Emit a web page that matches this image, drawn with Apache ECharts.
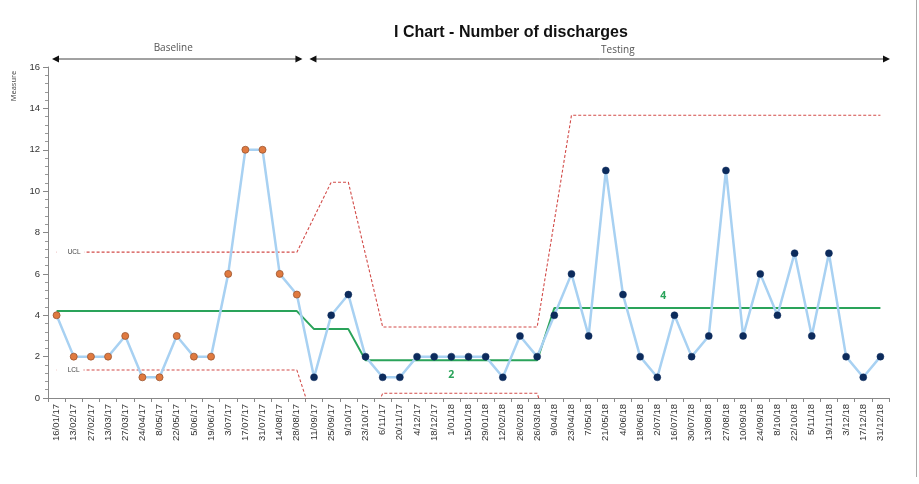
<!DOCTYPE html>
<html><head><meta charset="utf-8">
<script src="https://cdn.jsdelivr.net/npm/echarts@6/dist/echarts.min.js"></script>
<style>html,body{margin:0;padding:0;background:#fff}#c{width:919px;height:484px}</style>
</head><body><div id="c"></div>
<script>
const categories = ['16/01/17','13/02/17','27/02/17','13/03/17','27/03/17','24/04/17','8/05/17','22/05/17','5/06/17','19/06/17','3/07/17','17/07/17','31/07/17','14/08/17','28/08/17','11/09/17','25/09/17','9/10/17','23/10/17','6/11/17','20/11/17','4/12/17','18/12/17','1/01/18','15/01/18','29/01/18','12/02/18','26/02/18','26/03/18','9/04/18','23/04/18','7/05/18','21/05/18','4/06/18','18/06/18','2/07/18','16/07/18','30/07/18','13/08/18','27/08/18','10/09/18','24/09/18','8/10/18','22/10/18','5/11/18','19/11/18','3/12/18','17/12/18','31/12/18'];
const measure = [4,2,2,2,3,1,1,3,2,2,6,12,12,6,5, 1,4,5, 2,1,1,2,2,2,2,2,1,3,2, 4,6,3,11,5,2,1,4,2,3,11,3,6,4,7,3,7,2,1,2];
const phaseStart = [0, 15, 18, 29];
const phaseCL  = [4.2, 3.33, 1.82, 4.35];
const phaseUCL = [7.05, 10.43, 3.43, 13.67];
const phaseLCL = [1.35, -3.77, 0.23, -4.97];
const clLabelIndex = [23, 35];
const yMin = 0, yMax = 16, yInterval = 2;
const baselineCount = 15;
const sectionNames = ['Baseline', 'Testing'];
const titleText = 'I Chart - Number of discharges';

function phaseOf(i){ let p = 0; for (let k = 0; k < phaseStart.length; k++) if (i >= phaseStart[k]) p = k; return p; }
const clData = categories.map((c, i) => {
  const v = phaseCL[phaseOf(i)];
  if (clLabelIndex.includes(i)) {
    const first = i === clLabelIndex[0];
    return { value: v, symbol: 'circle', symbolSize: 0.1,
      label: { show: true, formatter: String(Math.round(v)), position: first ? 'bottom' : 'top',
        distance: first ? 9 : 6, offset: first ? [0,0] : [6,0], color: '#2aa35a', fontWeight: 'bold', fontSize: 10.5, fontFamily: 'Open Sans' } };
  }
  return v;
});
function limitData(arr, name) {
  return categories.map((c, i) => {
    const p = phaseOf(i);
    if (p > 0 && i === phaseStart[p]) return null;
    const v = arr[p];
    if (i === 0) return { value: v, symbol: 'circle', symbolSize: 0.1,
      label: { show: true, formatter: name, position: 'right', distance: 0, backgroundColor: '#fff',
        padding: [2, 4, 2, 11], fontSize: 6.5, color: '#444', fontFamily: 'Liberation Sans' } };
    return v;
  });
}
const measureData = measure.map((v, i) => ({ value: v,
  itemStyle: i < baselineCount ? { color: '#e07a40', borderColor: '#9a5530', borderWidth: 0.8 } : { color: '#0c2b5c', borderColor: '#0c2b5c', borderWidth: 0.5 } }));

const chart = echarts.init(document.getElementById('c'));
const option = {
  animation: false,
  backgroundColor: '#fff',
  title: { text: titleText, left: 389, top: 20, textStyle: { fontSize: 16, fontWeight: 'bold', color: '#111', fontFamily: 'Liberation Sans' } },
  grid: { left: 48, right: 30, top: 67, bottom: 86, containLabel: false },
  xAxis: { type: 'category', data: categories, boundaryGap: true,
    axisLine: { lineStyle: { color: '#888', width: 1 } },
    axisTick: { show: true, length: 4, lineStyle: { color: '#888' } },
    axisLabel: { rotate: 90, fontSize: 9.5, color: '#333', margin: 6, fontFamily: 'Liberation Sans', interval: 0 },
    splitLine: { show: false } },
  yAxis: { type: 'value', min: yMin, max: yMax, interval: yInterval,
    axisLine: { show: true, lineStyle: { color: '#888' } },
    axisTick: { show: true, length: 5, lineStyle: { color: '#888' } },
    minorTick: { show: true, splitNumber: 5, length: 3, lineStyle: { color: '#999' } },
    axisLabel: { fontSize: 9.5, color: '#333', margin: 8, fontFamily: 'Liberation Sans' },
    splitLine: { show: false } },
  series: [
    { name: 'UCL', type: 'line', data: limitData(phaseUCL, 'UCL'), symbol: 'none', connectNulls: true,
      lineStyle: { color: '#d24b48', width: 1.1, type: [3, 2] }, z: 2, silent: true },
    { name: 'LCL', type: 'line', data: limitData(phaseLCL, 'LCL'), symbol: 'none', connectNulls: true,
      lineStyle: { color: '#d24b48', width: 1.1, type: [3, 2] }, z: 2, silent: true },
    { name: 'CL', type: 'line', data: clData, symbol: 'none',
      lineStyle: { color: '#2aa35a', width: 2 }, z: 3, silent: true },
    { name: 'Measure', type: 'line', data: measureData, symbol: 'circle', symbolSize: 7, showSymbol: true,
      lineStyle: { color: '#a8d1f2', width: 2.5 }, z: 4, silent: true }
  ]
};
chart.setOption(option);

const xs = categories.map(c => chart.convertToPixel({ xAxisIndex: 0 }, c));
const step = xs[1] - xs[0];
const gridL = xs[0] - step / 2, gridR = xs[xs.length - 1] + step / 2;
const yTop = chart.convertToPixel({ yAxisIndex: 0 }, yMax);
const boundary = (xs[baselineCount - 1] + xs[baselineCount]) / 2;
const ay = yTop - 8;
function arrow(x1, x2) {
  const h = 7, w = 3.5, st = { fill: '#111' };
  return [
    { type: 'line', shape: { x1: x1 + 2, y1: ay, x2: x2 - 2, y2: ay }, style: { stroke: '#444', lineWidth: 1 }, silent: true },
    { type: 'polygon', shape: { points: [[x1, ay], [x1 + h, ay - w], [x1 + h, ay + w]] }, style: st, silent: true },
    { type: 'polygon', shape: { points: [[x2, ay], [x2 - h, ay - w], [x2 - h, ay + w]] }, style: st, silent: true }
  ];
}
const bL = gridL + 4, bR = boundary - 3, tL = boundary + 4, tR = gridR + 1;
const testingX = xs[32] + 0.7 * step;
const graphics = [].concat(arrow(bL, bR), arrow(tL, tR), [
  { type: 'text', x: (bL + bR) / 2 - 4, y: ay - 11, style: { text: sectionNames[0], font: '10px "Open Sans"', fill: '#555', align: 'center', verticalAlign: 'middle' }, silent: true },
  { type: 'text', x: testingX, y: ay - 9, style: { text: sectionNames[1], font: '10px "Open Sans"', fill: '#555', align: 'center', verticalAlign: 'middle' }, silent: true },
  { type: 'text', x: 14, y: 86, rotation: Math.PI / 2, style: { text: 'Measure', font: '7.5px "Open Sans"', fill: '#444', align: 'center', verticalAlign: 'middle' }, silent: true },
  { type: 'line', shape: { x1: 916.5, y1: 0, x2: 916.5, y2: 477 }, style: { stroke: '#aaa', lineWidth: 1 }, silent: true }
]);
chart.setOption({ graphic: graphics });
</script></body></html>
